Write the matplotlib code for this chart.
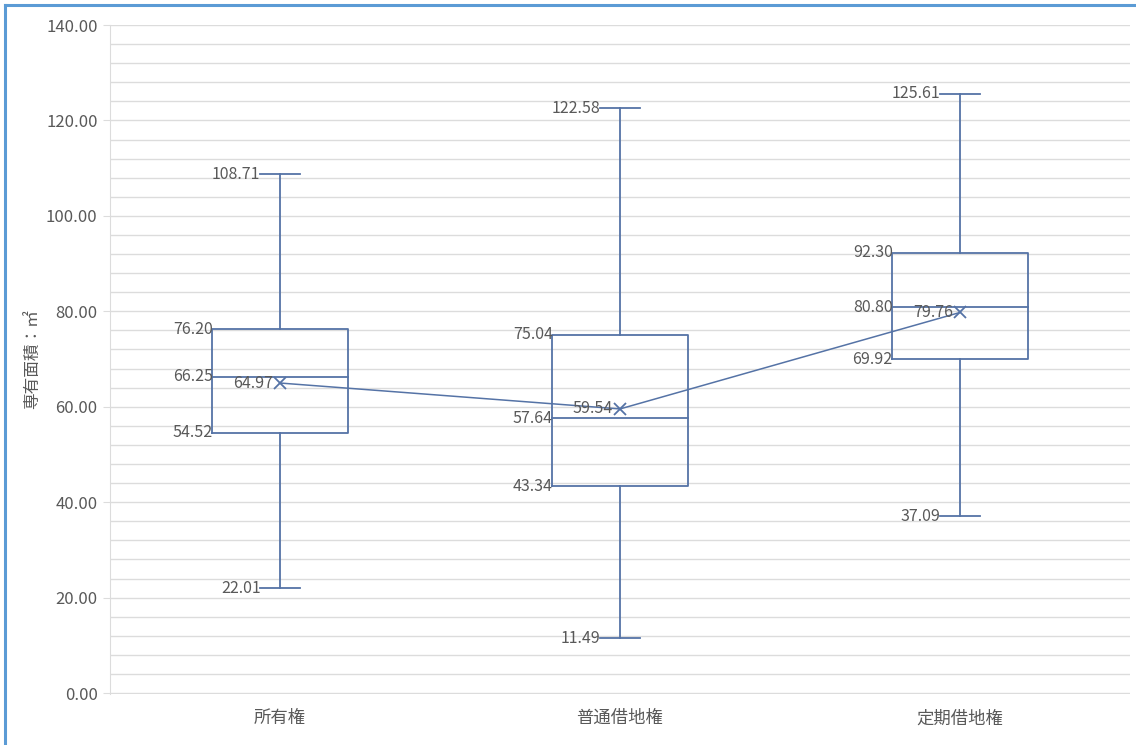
import matplotlib
matplotlib.use("Agg")
import matplotlib.pyplot as plt
from matplotlib.lines import Line2D

plt.rcParams['font.family'] = ['Noto Sans CJK JP', 'DejaVu Sans']

categories = ["所有権", "普通借地権", "定期借地権"]
whisker_min = [22.01, 11.49, 37.09]
q1 = [54.52, 43.34, 69.92]
median = [66.25, 57.64, 80.80]
q3 = [76.20, 75.04, 92.30]
whisker_max = [108.71, 122.58, 125.61]
mean = [64.97, 59.54, 79.76]

box_color = "#5573a6"
text_color = "#595959"
grid_color = "#dcdcdc"

fig = plt.figure(figsize=(11.36, 7.45), dpi=100)
ax = fig.add_axes([110 / 1136, 1 - 694 / 745, 1020 / 1136, 669 / 745])

ax.set_xlim(0, 3)
ax.set_ylim(-0.2, 140)
ax.set_yticks(range(0, 141, 20))
ax.set_yticks(range(0, 141, 4), minor=True)
ax.yaxis.set_major_formatter(matplotlib.ticker.FormatStrFormatter("%.2f"))
ax.tick_params(axis='y', which='major', length=5, color=grid_color,
               labelsize=12, labelcolor=text_color, pad=4)
ax.tick_params(axis='y', which='minor', length=0)
ax.grid(axis='y', which='both', color=grid_color, linewidth=1.0)
ax.set_axisbelow(True)

ax.set_xticks([0.5, 1.5, 2.5])
ax.set_xticklabels(categories, fontsize=12.5, color=text_color)
ax.tick_params(axis='x', length=0, pad=11)

for s in ['top', 'right', 'bottom']:
    ax.spines[s].set_visible(False)
ax.spines['left'].set_color(grid_color)

ax.set_ylabel("専有面積：㎡", fontsize=12, color=text_color, labelpad=3)

box_w = 0.4
cap_w = 0.115
lw = 1.3
label_fs = 11.5

for i in range(len(categories)):
    c = i + 0.5
    left = c - box_w / 2
    right = c + box_w / 2
    # box
    ax.plot([left, right, right, left, left], [q1[i], q1[i], q3[i], q3[i], q1[i]],
            color=box_color, lw=lw, zorder=3)
    ax.plot([left, right], [median[i], median[i]], color=box_color, lw=lw, zorder=3)
    # whiskers
    ax.plot([c, c], [q3[i], whisker_max[i]], color=box_color, lw=lw, zorder=3)
    ax.plot([c, c], [whisker_min[i], q1[i]], color=box_color, lw=lw, zorder=3)
    ax.plot([c - cap_w / 2, c + cap_w / 2], [whisker_max[i]] * 2, color=box_color, lw=lw, zorder=3)
    ax.plot([c - cap_w / 2, c + cap_w / 2], [whisker_min[i]] * 2, color=box_color, lw=lw, zorder=3)
    # value labels
    for v in (whisker_max[i], whisker_min[i]):
        ax.text(c - cap_w / 2, v, f"{v:.2f}", ha='right', va='center',
                fontsize=label_fs, color=text_color, zorder=4)
    for v in (q3[i], median[i], q1[i]):
        ax.text(left + 0.002, v, f"{v:.2f}", ha='right', va='center',
                fontsize=label_fs, color=text_color, zorder=4)
    ax.text(c - 0.02, mean[i], f"{mean[i]:.2f}", ha='right', va='center',
            fontsize=label_fs, color=text_color, zorder=4)

# mean line with markers
ax.plot([0.5, 1.5, 2.5], mean, color=box_color, lw=1.1, marker='x',
        markersize=8, markeredgewidth=1.3, zorder=3)

# outer frame
frame_color = "#5b9bd5"
fig.add_artist(Line2D([5 / 1136, 5 / 1136], [0, 1 - 5 / 745], color=frame_color, lw=2.2,
                      transform=fig.transFigure))
fig.add_artist(Line2D([5 / 1136, 1], [1 - 5 / 745, 1 - 5 / 745], color=frame_color, lw=2.2,
                      transform=fig.transFigure))

fig.savefig("out.png", dpi=100)
